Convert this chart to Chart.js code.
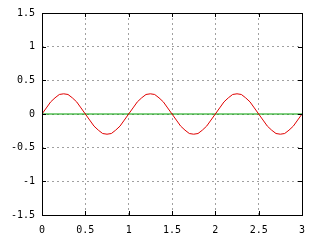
<!DOCTYPE html>
<html>
<head>
<meta charset="utf-8">
<script src="https://cdn.jsdelivr.net/npm/chart.js@4/dist/chart.umd.min.js"></script>
<style>
  html, body { margin: 0; padding: 0; background: #fff; }
  #wrap { width: 320px; height: 240px; }
</style>
</head>
<body>
<div id="wrap"><canvas id="plot" width="320" height="240"></canvas></div>
<script>
// sample positions along x
const xs = [
  0, 0.05, 0.1, 0.15, 0.2, 0.25, 0.3, 0.35, 0.4, 0.45,
  0.5, 0.55, 0.6, 0.65, 0.7, 0.75, 0.8, 0.85, 0.9, 0.95,
  1, 1.05, 1.1, 1.15, 1.2, 1.25, 1.3, 1.35, 1.4, 1.45,
  1.5, 1.55, 1.6, 1.65, 1.7, 1.75, 1.8, 1.85, 1.9, 1.95,
  2, 2.05, 2.1, 2.15, 2.2, 2.25, 2.3, 2.35, 2.4, 2.45,
  2.5, 2.55, 2.6, 2.65, 2.7, 2.75, 2.8, 2.85, 2.9, 2.95,
  3
];
// red wave
const redY = [
  0, 0.09, 0.18, 0.24, 0.29, 0.3, 0.29, 0.24, 0.18, 0.09,
  0, -0.09, -0.18, -0.24, -0.29, -0.3, -0.29, -0.24, -0.18, -0.09,
  0, 0.09, 0.18, 0.24, 0.29, 0.3, 0.29, 0.24, 0.18, 0.09,
  0, -0.09, -0.18, -0.24, -0.29, -0.3, -0.29, -0.24, -0.18, -0.09,
  0, 0.09, 0.18, 0.24, 0.29, 0.3, 0.29, 0.24, 0.18, 0.09,
  0, -0.09, -0.18, -0.24, -0.29, -0.3, -0.29, -0.24, -0.18, -0.09,
  0
];
// green flat line
const greenX = [0, 3];
const greenY = [0, 0];

const xTicks = [0, 0.5, 1, 1.5, 2, 2.5, 3];
const yTicks = [-1.5, -1, -0.5, 0, 0.5, 1, 1.5];

const monoFont = { family: "'DejaVu Sans Mono', monospace", size: 10 };

// frame + inward tics on all four sides, like gnuplot
const frame = {
  id: "frame",
  afterDatasetsDraw(chart) {
    const { ctx, chartArea: a, scales } = chart;
    const t = 4;
    ctx.save();
    ctx.strokeStyle = "#000";
    ctx.lineWidth = 1;
    ctx.beginPath();
    xTicks.forEach((v) => {
      const px = Math.round(scales.x.getPixelForValue(v)) + 0.5;
      ctx.moveTo(px, a.bottom); ctx.lineTo(px, a.bottom - t);
      ctx.moveTo(px, a.top); ctx.lineTo(px, a.top + t);
    });
    yTicks.forEach((v) => {
      const py = Math.round(scales.y.getPixelForValue(v)) + 0.5;
      ctx.moveTo(a.left, py); ctx.lineTo(a.left + t, py);
      ctx.moveTo(a.right, py); ctx.lineTo(a.right - t, py);
    });
    ctx.stroke();
    ctx.strokeRect(Math.round(a.left) + 0.5, Math.round(a.top) + 0.5,
      Math.round(a.right - a.left), Math.round(a.bottom - a.top));
    ctx.restore();
  }
};

new Chart(document.getElementById("plot").getContext("2d"), {
  type: "scatter",
  data: {
    datasets: [
      {
        data: xs.map((x, i) => ({ x, y: redY[i] })),
        showLine: true,
        borderColor: "#e00000",
        borderWidth: 1,
        pointRadius: 0,
        tension: 0
      },
      {
        data: greenX.map((x, i) => ({ x, y: greenY[i] })),
        showLine: true,
        borderColor: "#00a000",
        borderWidth: 1,
        pointRadius: 0
      }
    ]
  },
  options: {
    responsive: false,
    animation: false,
    devicePixelRatio: 1,
    layout: { padding: { top: 12, right: 18, left: 0, bottom: 0 } },
    plugins: { legend: { display: false }, tooltip: { enabled: false } },
    scales: {
      x: {
        type: "linear",
        min: 0, max: 3,
        afterBuildTicks: (s) => { s.ticks = xTicks.map((v) => ({ value: v })); },
        afterFit: (s) => { s.height = 25; },
        border: { display: false, dash: [2, 3] },
        grid: { color: "#a0a0a0", drawTicks: false },
        ticks: { color: "#000", font: monoFont, padding: 9, maxRotation: 0,
                 callback: (v) => String(v) }
      },
      y: {
        type: "linear",
        min: -1.5, max: 1.5,
        afterBuildTicks: (s) => { s.ticks = yTicks.map((v) => ({ value: v })); },
        afterFit: (s) => { s.width = 42; },
        border: { display: false, dash: [2, 3] },
        grid: { color: "#a0a0a0", drawTicks: false },
        ticks: { color: "#000", font: monoFont, padding: 7,
                 callback: (v) => String(v) }
      }
    }
  },
  plugins: [frame]
});
</script>
</body>
</html>
